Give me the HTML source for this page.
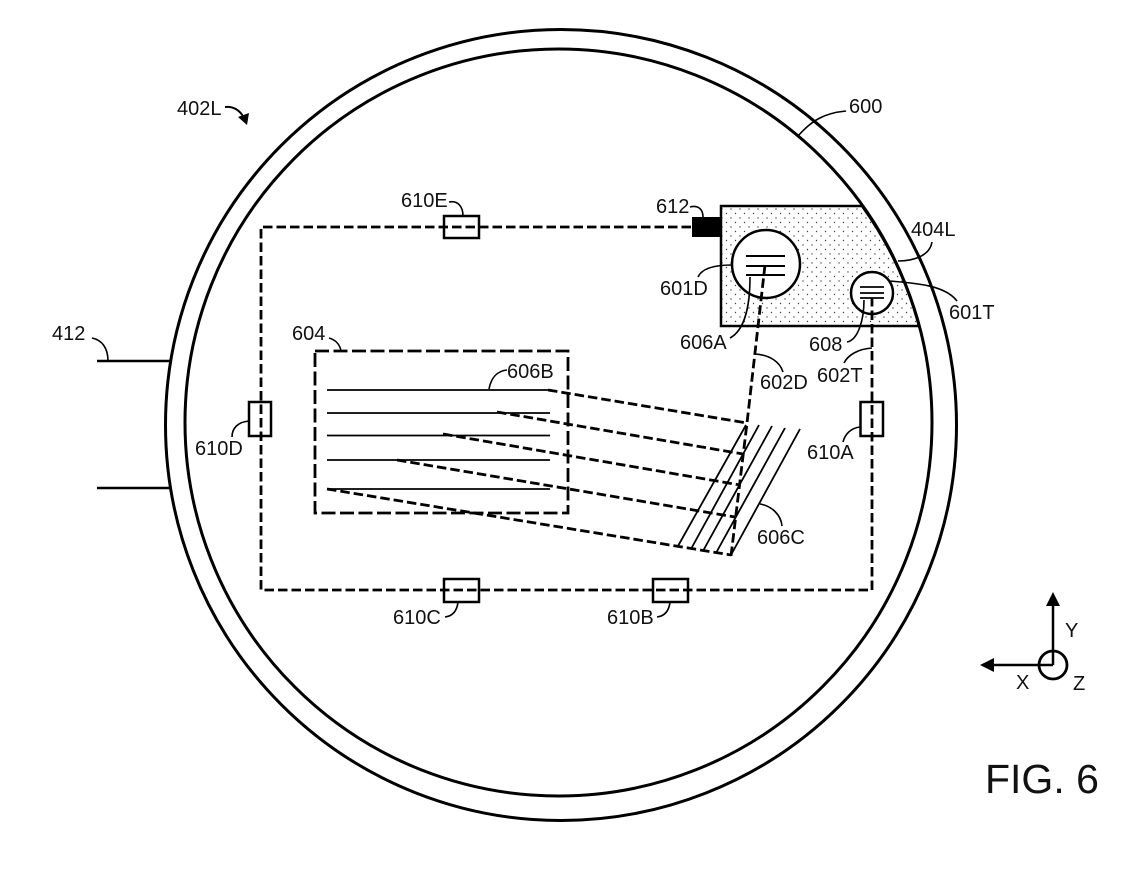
<!DOCTYPE html>
<html><head><meta charset="utf-8"><style>
html,body{margin:0;padding:0;background:#fff}
svg{display:block}
text{font-family:"Liberation Sans",Arial,sans-serif;font-size:20px;fill:#111}
</style></head><body>
<svg width="1129" height="883" viewBox="0 0 1129 883" xmlns="http://www.w3.org/2000/svg">
<defs>
<pattern id="dots" width="9" height="9" patternUnits="userSpaceOnUse">
<circle cx="2" cy="2" r="0.7" fill="#444"/><circle cx="6.5" cy="6.5" r="0.7" fill="#444"/>
</pattern>
</defs>
<rect width="1129" height="883" fill="#fff"/>
<g fill="none" stroke="#000">
<circle cx="561" cy="425" r="395.5" stroke-width="3"/>
<circle cx="558.5" cy="422.5" r="373.5" stroke-width="3"/>
<path d="M97,361H170M97,488H170" stroke-width="2.5"/>
<path d="M721,206H862A373.5,373.5 0 0 1 919,326H721Z" fill="url(#dots)" stroke-width="2.5"/>
<circle cx="766" cy="264" r="34" fill="#fff" stroke-width="2.5"/>
<circle cx="872" cy="293" r="21" fill="#fff" stroke-width="2.5"/>
<path d="M746,256H785M746,266H785M746,275H785" stroke-width="2"/>
<path d="M860,287H884M860,293H884M860,298H884" stroke-width="1.8"/>
<!-- dashed loop -->
<path d="M691,227H261V590H872V298" stroke-width="2.8" stroke-dasharray="9.5 4"/>
<path d="M765,265L747,423L731,556" stroke-width="2.8" stroke-dasharray="9.5 4"/>
<!-- connector boxes -->
<g stroke-width="2.5">
<rect x="444" y="216" width="35" height="22"/>
<rect x="249" y="402" width="22" height="34"/>
<rect x="444" y="579" width="35" height="23"/>
<rect x="653" y="579" width="35" height="23"/>
<rect x="860.500" y="402" width="22.500" height="34"/>
</g>
<!-- 604 -->
<rect x="315" y="351" width="253" height="162" stroke-width="2.8" stroke-dasharray="14 4.500"/>
<path d="M327,390H550M327,413H550M327,435.500H550M327,460H550M327,489H550" stroke-width="1.800"/>
<g stroke-width="2.800" stroke-dasharray="9.500 4">
<path d="M548,390L747,423"/>
<path d="M497,412L743,454"/>
<path d="M443,434L740,485"/>
<path d="M397,460L735,517"/>
<path d="M327,489L731,555"/>
</g>
<!-- 606C -->
<path d="M678,546L746,425M691,549L759,425M703,551L772,426M716,553L785,428M731,555L800,429" stroke-width="1.800"/>
<!-- leaders -->
<g stroke-width="1.600">
<path d="M798,136C812,120 825,113 846,111"/>
<path d="M898,261C915,261 930,255 932,242"/>
<path d="M889,281C915,283 945,285 957,301"/>
<path d="M732,265C715,265 702,268 698,277"/>
<path d="M750,277C750,305 745,330 730,338"/>
<path d="M864,300C864,320 858,340 847,342"/>
<path d="M755,354C770,355 780,362 783,372"/>
<path d="M872,348C858,349 848,355 844,363"/>
<path d="M690,207C698,205 703,209 703,217"/>
<path d="M449,202C458,200 463,207 463,216"/>
<path d="M329,338C336,340 340,345 341,351"/>
<path d="M489,389C491,378 497,371 507,370"/>
<path d="M92,338C102,340 108,348 108,361"/>
<path d="M249,421C238,422 232,428 232,437"/>
<path d="M860,427C851,428 845,434 843,442"/>
<path d="M760,504C772,506 781,515 782,526"/>
<path d="M458,602C457,611 453,616 445,617"/>
<path d="M670,602C669,611 665,616 657,617"/>
<path d="M225,107C233,106 240,110 244,118" stroke-width="2"/>
</g>
<!-- axes -->
<path d="M1053,665V605M1053,665H993" stroke-width="2.500"/>
<circle cx="1053" cy="665" r="14" stroke-width="2.800"/>
</g>
<rect x="692" y="217" width="29" height="20" fill="#000"/>
<path d="M238,117L249,113L247,125Z" fill="#000"/>
<path d="M1053,592L1060,606H1046Z M980,665L994,658V672Z" fill="#000"/>
<text x="177" y="115">402L</text>
<text x="849" y="113">600</text>
<text x="401" y="207">610E</text>
<text x="656" y="213">612</text>
<text x="911" y="236">404L</text>
<text x="660" y="295">601D</text>
<text x="949" y="319">601T</text>
<text x="680" y="349">606A</text>
<text x="809" y="351">608</text>
<text x="760" y="389">602D</text>
<text x="817" y="382">602T</text>
<text x="292" y="340">604</text>
<text x="507" y="378">606B</text>
<text x="52" y="340">412</text>
<text x="195" y="455">610D</text>
<text x="807" y="459">610A</text>
<text x="757" y="544">606C</text>
<text x="393" y="624">610C</text>
<text x="607" y="624">610B</text>
<text x="1065" y="637">Y</text>
<text x="1016" y="689">X</text>
<text x="1073" y="690">Z</text>
<text x="985" y="793" style="font-size:41px">FIG. 6</text>
</svg>
</body></html>
